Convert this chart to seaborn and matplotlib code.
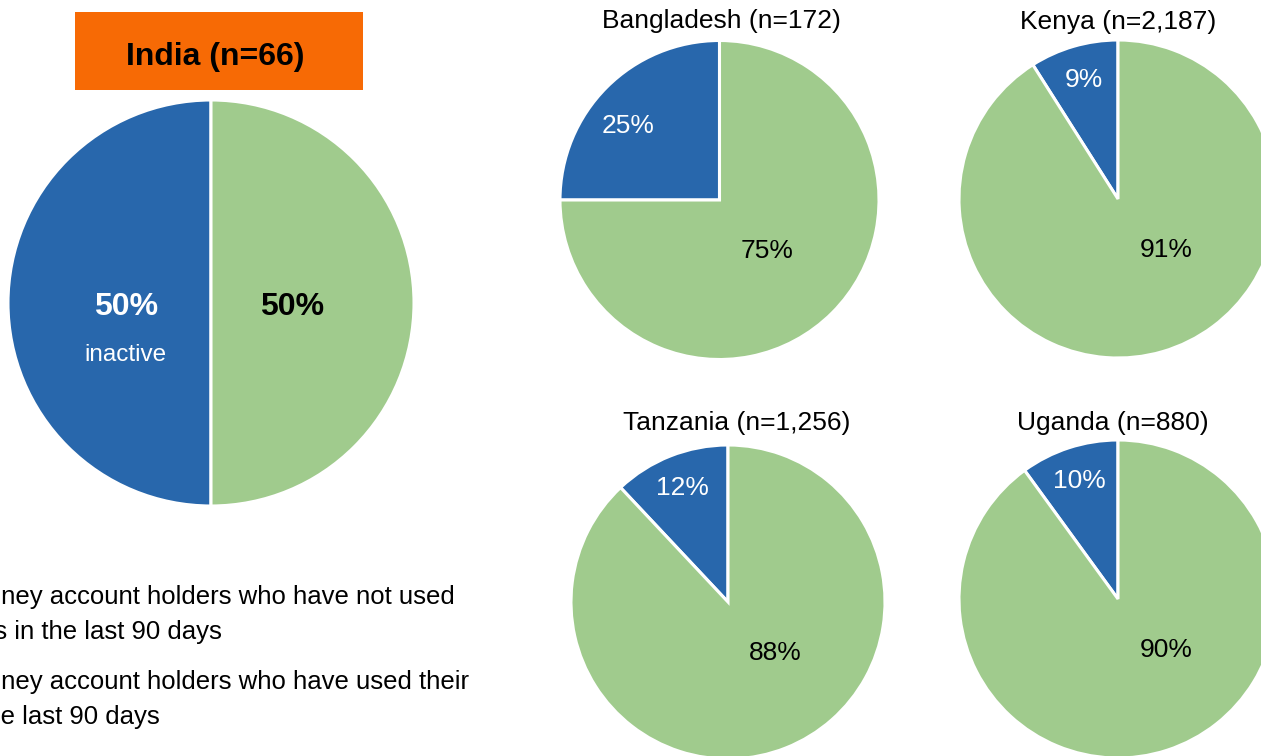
import numpy as np
import matplotlib
matplotlib.use("Agg")
import matplotlib.pyplot as plt
import matplotlib.patches as mpatches
import seaborn as sns

sns.set_theme(style="white")
plt.rcParams["font.family"] = ["Liberation Sans", "DejaVu Sans"]
plt.rcParams["text.color"] = "black"

# Share of mobile money account holders: inactive vs active (last 90 days)
countries = ["India", "Bangladesh", "Kenya", "Tanzania", "Uganda"]
sample_sizes = ["66", "172", "2,187", "1,256", "880"]
inactive_pct = [50, 25, 9, 12, 10]
active_pct = [50, 75, 91, 88, 90]

legend_lines = [
    "Mobile money account holders who have not used",
    "their accounts in the last 90 days",
    "Mobile money account holders who have used their",
    "accounts in the last 90 days",
]
footer_text = "holders Proportion of"

BLUE = "#2867AC"
GREEN = "#A0CB8D"
ORANGE = "#F76A05"

W, H = 1261, 756
fig = plt.figure(figsize=(W / 100, H / 100), dpi=100)
fig.patch.set_facecolor("white")

# pixel layout: (centre x, centre y from top, radius)
layout = {
    "India": (211, 303, 203),
    "Bangladesh": (719.5, 200, 159.5),
    "Kenya": (1118, 199, 159),
    "Tanzania": (728, 602, 157),
    "Uganda": (1118, 599, 159),
}


def pie_axes(cx, cy, r):
    ax = fig.add_axes([(cx - r) / W, 1 - (cy + r) / H, 2 * r / W, 2 * r / H])
    ax.set_axis_off()
    return ax


def polar(deg, dist):
    ang = np.deg2rad(deg)
    return dist * np.cos(ang), dist * np.sin(ang)


for name, n, inact, act in zip(countries, sample_sizes, inactive_pct, active_pct):
    cx, cy, r = layout[name]
    ax = pie_axes(cx, cy, r)
    ax.pie([inact, act], colors=[BLUE, GREEN], startangle=90, counterclock=True,
           radius=1, wedgeprops=dict(edgecolor="white", linewidth=2.2))
    ax.set_xlim(-1.0, 1.0)
    ax.set_ylim(-1.0, 1.0)
    ax.set_aspect("equal")

    f_in = inact / (inact + act)
    mid_in = 90 + 360 * f_in / 2
    if name == "India":
        x, y = polar(mid_in, 0.42)
        ax.text(x, y - 0.02, f"{inact}%", color="white", fontsize=23,
                fontweight="bold", ha="center", va="center")
        ax.text(x, y - 0.255, "inactive", color="white", fontsize=17.5,
                ha="center", va="center")
        ax.text(-x - 0.02, y - 0.02, f"{act}%", color="black", fontsize=23,
                fontweight="bold", ha="center", va="center")
    else:
        d_small = 0.74 if inact >= 20 else 0.78
        ang_small = mid_in + (6 if inact >= 20 else 0)
        x, y = polar(ang_small, d_small)
        ax.text(x, y, f"{inact}%", color="white", fontsize=19,
                ha="center", va="center")
        x, y = polar(-47, 0.44)
        ax.text(x, y, f"{act}%", color="black", fontsize=19,
                ha="center", va="center")

# India header box
fig.patches.append(mpatches.Rectangle((75 / W, 1 - 90 / H), 288 / W, 78 / H,
                                      transform=fig.transFigure, facecolor=ORANGE,
                                      edgecolor="none", zorder=0))
fig.text(215 / W, 1 - 57 / H, f"{countries[0]} (n={sample_sizes[0]})",
         fontsize=23, fontweight="bold", ha="center", va="center")

# Country titles
title_pos = {
    "Bangladesh": (721, 21),
    "Kenya": (1118, 22),
    "Tanzania": (737, 423),
    "Uganda": (1113, 423),
}
for name, n in zip(countries[1:], sample_sizes[1:]):
    tx, ty = title_pos[name]
    fig.text(tx / W, 1 - ty / H, f"{name} (n={n})", fontsize=19,
             ha="center", va="center")

# Legend text
legend_right = [455, 222, 469, 160]
legend_y = [597, 632, 682, 717]
for line, xr, yy in zip(legend_lines, legend_right, legend_y):
    fig.text(xr / W, 1 - yy / H, line, fontsize=18.5, ha="right", va="center")

# Footer line running off the bottom edge
fig.text(212 / W, 1 - 777 / H, footer_text, fontsize=20,
         fontweight="bold", ha="left", va="baseline")

fig.savefig("out.png", dpi=100, facecolor="white")
